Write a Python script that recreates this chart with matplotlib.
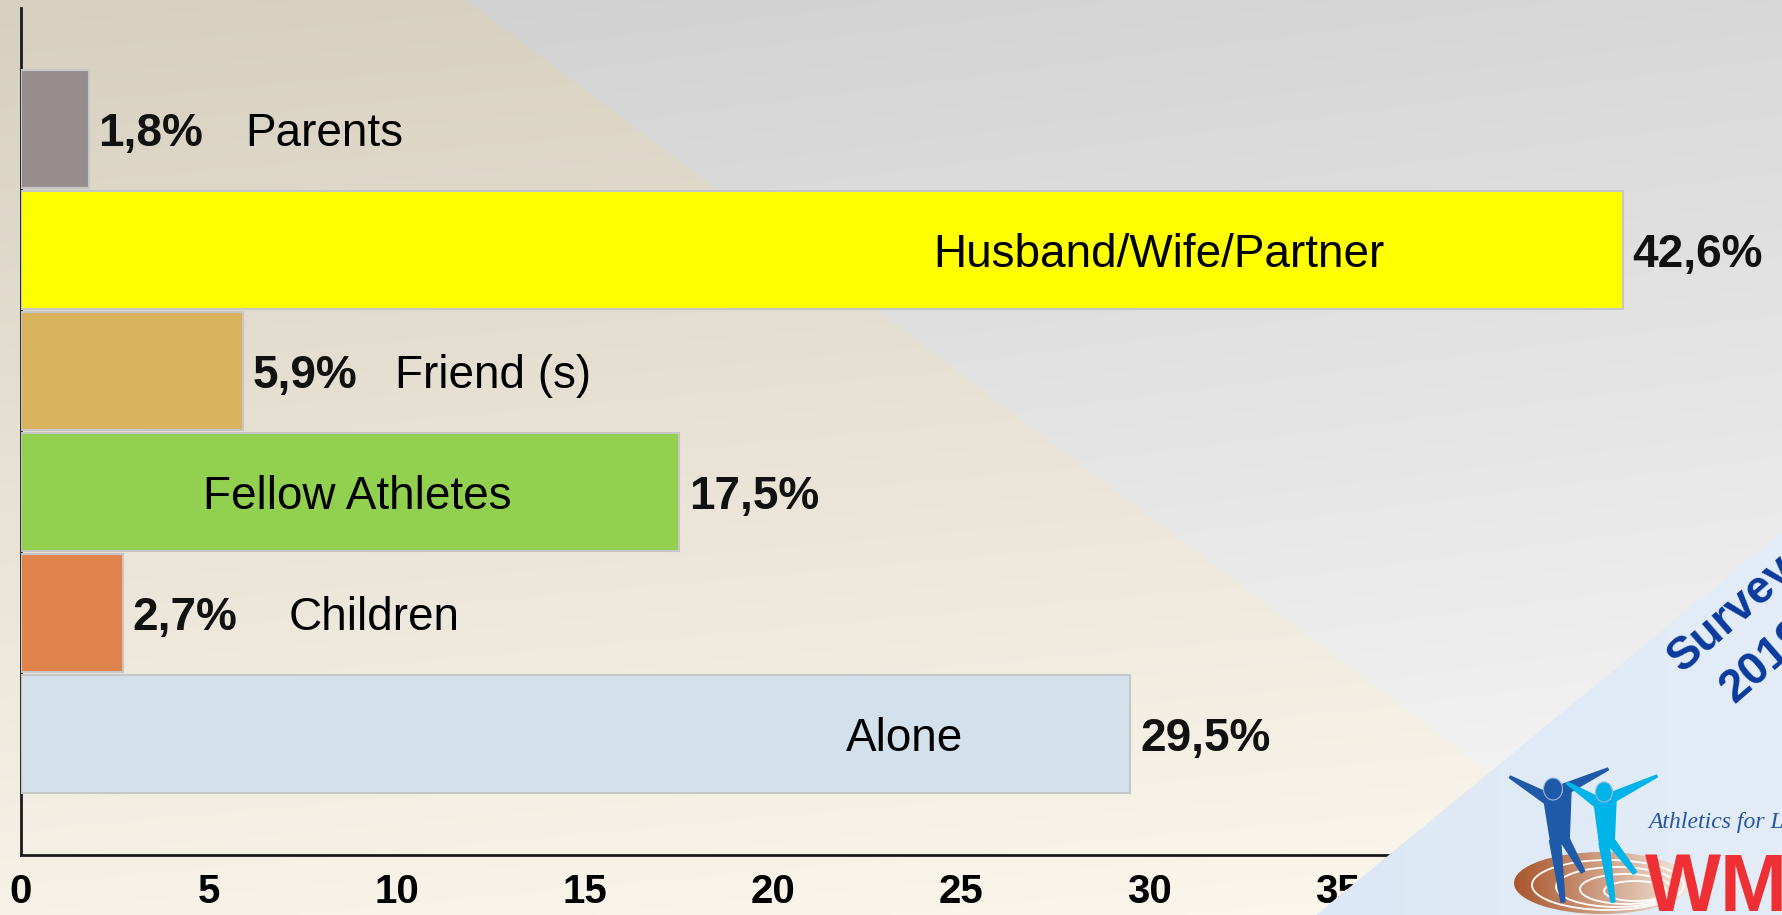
import numpy as np
import matplotlib
matplotlib.use('Agg')
import matplotlib.pyplot as plt
from matplotlib.patches import Polygon, Ellipse
from matplotlib.colors import to_rgb

# ---------------- data ----------------
categories = ['Parents', 'Husband/Wife/Partner', 'Friend (s)', 'Fellow Athletes', 'Children', 'Alone']
values = [1.8, 42.6, 5.9, 17.5, 2.7, 29.5]
value_labels = ['1,8%', '42,6%', '5,9%', '17,5%', '2,7%', '29,5%']
bar_colors = ['#978d8c', '#ffff00', '#d9b25d', '#92d050', '#e0834b', '#d3e1ec']
xticks = [0, 5, 10, 15, 20, 25, 30, 35, 40, 45]

# category text placement (data units) and alignment
label_x = [5.96, 30.25, 9.95, 8.93, 7.13, 23.5]
label_ha = ['left', 'center', 'left', 'center', 'left', 'center']

W, H = 1782, 915
FONT = ['Liberation Sans', 'DejaVu Sans']
fig = plt.figure(figsize=(W / 100, H / 100), dpi=100)


def gradient(c0, c1, wx, wy, n=300):
    yy, xx = np.mgrid[0:1:n * 1j, 0:1:n * 1j]
    t = np.clip(wx * xx + wy * yy, 0, 1)[..., None]
    a, b = np.array(to_rgb(c0)), np.array(to_rgb(c1))
    return a * (1 - t) + b * t


def clipped_gradient(axx, pts, c0, c1, wx, wy, z=0):
    poly = Polygon(pts, closed=True, transform=axx.transData, facecolor='none', edgecolor='none')
    axx.add_patch(poly)
    im = axx.imshow(gradient(c0, c1, wx, wy), extent=(0, W, H, 0), aspect='auto',
                    interpolation='bilinear', zorder=z)
    im.set_clip_path(poly)
    return im


# ---------------- background ----------------
bg = fig.add_axes([0, 0, 1, 1], zorder=0)
bg.imshow(gradient('#d0d0d0', '#f8f8f8', 0.2, 0.8), extent=(0, W, H, 0), aspect='auto',
          interpolation='bilinear')
clipped_gradient(bg, [(0, 0), (466, 0), (1678, H), (0, H)], '#d7d0c0', '#fcf8ee', 0.15, 0.85, z=1)
bg.set_xlim(0, W)
bg.set_ylim(H, 0)
bg.axis('off')

# ---------------- main chart ----------------
ax = fig.add_axes([21 / W, 1 - 855 / H, (W - 21) / W, (855 - 8) / H], zorder=1)
ax.set_facecolor('none')
ypos = list(range(len(categories) - 1, -1, -1))
ax.barh(ypos, values, height=0.975, color=bar_colors, edgecolor='#c6c6c6',
        linewidth=1.5, zorder=3)
ax.set_xlim(0, (W - 21) / 37.6)
ax.set_ylim(-1, 6)

for i, (y, v) in enumerate(zip(ypos, values)):
    ax.annotate(value_labels[i], (v, y), xytext=(7, 0), textcoords='offset points',
                ha='left', va='center_baseline', fontsize=33, fontweight='bold',
                family=FONT, color='#111111', zorder=5)
    ax.text(label_x[i], y, categories[i], ha=label_ha[i], va='center_baseline',
            fontsize=33, family=FONT, color='#000000', zorder=5)

for s in ['top', 'right']:
    ax.spines[s].set_visible(False)
for s in ['left', 'bottom']:
    ax.spines[s].set_color('#1a1a1a')
    ax.spines[s].set_linewidth(2)
ax.set_yticks([])
ax.set_xticks(xticks)
ax.set_xticklabels([str(t) for t in xticks])
ax.tick_params(axis='x', length=0, pad=13, labelsize=29)
for lab in ax.get_xticklabels():
    lab.set_fontweight('bold')
    lab.set_family(FONT)

# ---------------- overlay (logo corner) ----------------
ov = fig.add_axes([0, 0, 1, 1], zorder=3)
ov.patch.set_alpha(0)
clipped_gradient(ov, [(1316, H), (W, 532), (W, H)], '#c4daf0', '#e4edf7', 1.0, 0.0, z=1)

ov.text(1682, 673, 'Survey', rotation=41, rotation_mode='anchor', ha='left', va='baseline',
        fontsize=33, fontweight='bold', color='#0a3a9c', family=FONT, zorder=5)
ov.text(1734, 704, '2019', rotation=41, rotation_mode='anchor', ha='left', va='baseline',
        fontsize=33, fontweight='bold', color='#0a3a9c', family=FONT, zorder=5)

# track
track = Ellipse((1602, 883), 176, 62, transform=ov.transData, facecolor='none', edgecolor='none')
ov.add_patch(track)
im = ov.imshow(gradient('#a9552b', '#f6ece2', 1.0, 0.0), extent=(1514, 1692, 915, 850),
               aspect='auto', interpolation='bilinear', zorder=2)
im.set_clip_path(track)
for i in range(4):
    e = Ellipse((1608 + 9 * i, 885 + 2 * i), 152 - 30 * i, 50 - 10 * i, facecolor='none',
                edgecolor='white', linewidth=1.3, zorder=3)
    ov.add_patch(e)
    e.set_clip_path(track)


def limb(p0, p1, w0, w1):
    p0, p1 = np.array(p0, float), np.array(p1, float)
    d = p1 - p0
    n = np.array([-d[1], d[0]]) / np.hypot(*d)
    return [p0 + n * w0 / 2, p1 + n * w1 / 2, p1 - n * w1 / 2, p0 - n * w0 / 2]


def figure_shape(color, head, torso, limbs):
    ov.add_patch(Polygon(torso, closed=True, facecolor=color, edgecolor=color,
                         linewidth=1, joinstyle='round', zorder=4))
    for (p0, p1, w0, w1) in limbs:
        ov.add_patch(Polygon(limb(p0, p1, w0, w1), closed=True, facecolor=color,
                             edgecolor=color, linewidth=1, joinstyle='round', zorder=4))
    ov.add_patch(Ellipse(head[:2], head[2], head[3], facecolor=color, edgecolor='#9ab8dc',
                         linewidth=0.8, zorder=5))


figure_shape('#1f5aa8', (1553, 789, 19, 22),
             [(1544, 800), (1571, 790), (1569, 844), (1551, 844)],
             [((1548, 799), (1510, 777), 11, 2),
              ((1563, 790), (1608, 769), 11, 2),
              ((1555, 840), (1563, 902), 11, 4),
              ((1565, 840), (1583, 872), 9, 4)])
figure_shape('#00b4ea', (1604, 792, 17, 20),
             [(1594, 802), (1616, 800), (1614, 847), (1600, 847)],
             [((1597, 802), (1567, 783), 10, 2),
              ((1611, 798), (1657, 776), 10, 2),
              ((1604, 843), (1613, 902), 10, 4),
              ((1612, 843), (1635, 873), 8, 4)])

ov.text(1648, 828, 'Athletics for Life', ha='left', va='baseline', fontsize=17,
        style='italic', color='#2456a4', family=['Liberation Serif', 'DejaVu Serif'], zorder=5)
ov.text(1645, 912, 'WMA', ha='left', va='baseline', fontsize=58, fontweight='bold',
        color='#ee3035', family=FONT, zorder=5)

ov.set_xlim(0, W)
ov.set_ylim(H, 0)
ov.axis('off')

fig.savefig('out.png', dpi=100)
